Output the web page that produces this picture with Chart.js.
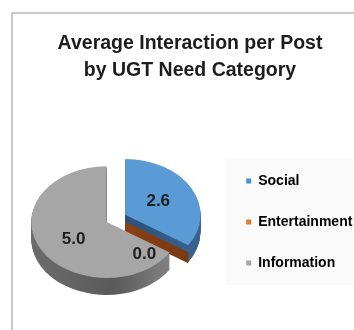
<!DOCTYPE html>
<html>
<head>
<meta charset="utf-8">
<script src="https://cdn.jsdelivr.net/npm/chart.js@4/dist/chart.umd.min.js"></script>
<style>
  html, body { margin: 0; padding: 0; background: #ffffff; overflow: hidden; width: 354px; height: 330px; }
  #frame { position: absolute; left: 11px; top: 12px; width: 420px; height: 420px;
           border: 2px solid #c9c9c9; box-sizing: border-box; background: #ffffff; }
  #wrap { position: absolute; left: 0; top: 0; width: 380px; height: 330px; }
  canvas { display: block; }
</style>
</head>
<body>
<div id="frame"></div>
<div id="wrap"><canvas id="chart" width="380" height="330"></canvas></div>
<script>
// Average interaction per post, grouped by UGT need category
const categories = ['Social', 'Entertainment', 'Information'];
const avgInteraction = [2.6, 0.0, 5.0];
const titleLines = ['Average Interaction per Post', 'by UGT Need Category'];

const topColors = ['#5b9bd5', '#ed7d31', '#a6a6a6'];
const legendColors = ['#4f8fcf', '#e57a35', '#a5a5a5'];

const FONT = '"Liberation Sans", Arial, Helvetica, sans-serif';

// Pseudo-3D pie: squashes the library's arcs vertically, stacks darker
// copies underneath for the wall, then paints the tops and value labels.
const pie3d = {
  id: 'pie3d',
  beforeDraw(chart, args, opts) {
    const lg = chart.legend;
    if (!lg) return;
    const ctx = chart.ctx;
    const cy = (lg.top + lg.bottom) / 2;
    ctx.save();
    ctx.fillStyle = opts.legendPanel;
    ctx.fillRect(lg.left + 7, cy - 64, chart.width, 127);
    ctx.restore();
  },
  beforeDatasetsDraw(chart, args, opts) {
    const meta = chart.getDatasetMeta(0);
    const arcs = meta.data;
    const ctx = chart.ctx;
    const exploded = arcs.map((a, i) => opts.explode.includes(i));
    let gs = Infinity, ge = -Infinity;
    arcs.forEach((a, i) => {
      if (exploded[i]) { gs = Math.min(gs, a.startAngle); ge = Math.max(ge, a.endAngle); }
    });
    const gMid = (gs + ge) / 2;
    const shift = i => exploded[i]
      ? { x: Math.cos(gMid) * opts.explodeBy, y: Math.sin(gMid) * opts.explodeBy }
      : { x: 0, y: 0 };

    const paint = (arc, i, dy, fill) => {
      const s = shift(i);
      ctx.save();
      ctx.translate(opts.shiftX, dy);
      ctx.translate(arc.x, arc.y);
      ctx.scale(1, opts.tilt);
      ctx.translate(-arc.x, -arc.y);
      ctx.translate(s.x, s.y);
      const p = Object.create(arc);
      p.options = Object.assign({}, arc.options, {
        backgroundColor: fill, borderWidth: 0, offset: 0, spacing: 0
      });
      p.draw(ctx);
      ctx.restore();
    };

    const sideFill = (arc, i) => {
      const r = arc.outerRadius;
      const g = ctx.createLinearGradient(arc.x - r, 0, arc.x + r, 0);
      const c = opts.sideColors[i];
      g.addColorStop(0, c[0]);
      g.addColorStop(0.55, c[1]);
      g.addColorStop(1, c[2]);
      return g;
    };

    // wall
    for (let d = opts.depth; d >= 1; d--) {
      arcs.forEach((arc, i) => paint(arc, i, d, sideFill(arc, i)));
    }

    // cut face of zero-width slices
    const toScreen = (arc, x, y, d) => [x + opts.shiftX, arc.y + (y - arc.y) * opts.tilt + d];
    arcs.forEach((arc, i) => {
      if (arc.circumference !== 0 || !exploded[i]) return;
      const s = shift(i);
      const a = arc.startAngle;
      const cx = arc.x + s.x, cy = arc.y + s.y;
      const ex = cx + Math.cos(a) * arc.outerRadius, ey = cy + Math.sin(a) * arc.outerRadius;
      const d1 = opts.depth * opts.faceFrom, d2 = opts.depth + 1;
      const pts = [toScreen(arc, cx, cy, d1), toScreen(arc, ex, ey, d1),
                   toScreen(arc, ex, ey, d2), toScreen(arc, cx, cy, d2)];
      const g = ctx.createLinearGradient(pts[0][0], 0, pts[1][0], 0);
      g.addColorStop(0, opts.sideColors[i][0]);
      g.addColorStop(1, opts.sideColors[i][2]);
      ctx.save();
      ctx.fillStyle = g;
      ctx.beginPath();
      pts.forEach((pt, k) => k ? ctx.lineTo(pt[0], pt[1]) : ctx.moveTo(pt[0], pt[1]));
      ctx.closePath();
      ctx.fill();
      ctx.restore();
    });

    // tops
    arcs.forEach((arc, i) => paint(arc, i, 0, arc.options.backgroundColor));

    // value labels
    const values = chart.data.datasets[0].data;
    ctx.save();
    ctx.font = 'bold ' + opts.labelSize + 'px ' + FONT;
    ctx.fillStyle = opts.labelColor;
    ctx.textAlign = 'center';
    ctx.textBaseline = 'middle';
    arcs.forEach((arc, i) => {
      const s = shift(i);
      const a = (arc.startAngle + arc.endAngle) / 2 + opts.labelTurn[i] * Math.PI / 180;
      const r = arc.outerRadius * opts.labelRadius[i];
      const x = arc.x + s.x + Math.cos(a) * r;
      const y = arc.y + s.y + Math.sin(a) * r;
      const [sx, sy] = toScreen(arc, x, y, 0);
      ctx.fillText(values[i].toFixed(1), sx, sy);
    });
    ctx.restore();
    return false;
  }
};

new Chart(document.getElementById('chart'), {
  type: 'pie',
  data: {
    labels: categories,
    datasets: [{
      data: avgInteraction,
      backgroundColor: topColors,
      borderWidth: 0
    }]
  },
  plugins: [pie3d],
  options: {
    responsive: false,
    animation: false,
    devicePixelRatio: 1,
    events: [],
    layout: { padding: { left: 17.65, right: 17.65, top: 0, bottom: 32.5 } },
    plugins: {
      title: {
        display: true,
        text: titleLines,
        color: '#1c1c1c',
        font: { family: FONT, size: 19.5, weight: 'bold', lineHeight: 1.39 },
        padding: { top: 30, bottom: 62.5 }
      },
      legend: {
        display: true,
        position: 'right',
        align: 'center',
        fullSize: false,
        labels: {
          boxWidth: 5,
          boxHeight: 5,
          padding: 27,
          color: '#1c1c1c',
          font: { family: FONT, size: 14, weight: 'bold' },
          generateLabels: chart => chart.data.labels.map((t, i) => ({
            text: t, fillStyle: legendColors[i], strokeStyle: legendColors[i],
            lineWidth: 0, hidden: false, index: i
          }))
        }
      },
      tooltip: { enabled: false },
      pie3d: {
        tilt: 0.74,
        depth: 17,
        shiftX: -11.8,
        explode: [0, 1],
        explodeBy: 21,
        faceFrom: 0.42,
        sideColors: [
          ['#2a4b73', '#2e5280', '#3a6290'],
          ['#8a4012', '#8f4516', '#7a3a10'],
          ['#6c6c6c', '#5a5a5a', '#8a8a8a']
        ],
        labelSize: 17,
        labelColor: '#1e1e1e',
        labelRadius: [0.5, 0.75, 0.53],
        labelTurn: [0, 37, -6],
        legendPanel: '#fafafa'
      }
    }
  }
});
</script>
</body>
</html>
